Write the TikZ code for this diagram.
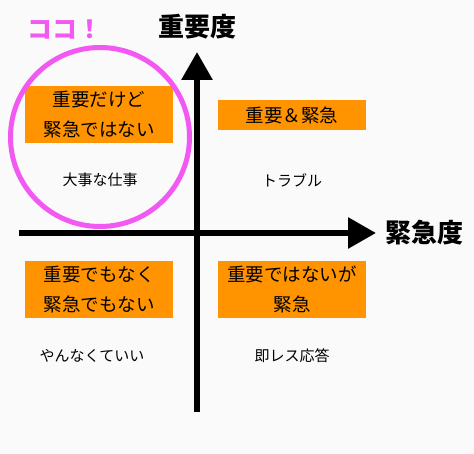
\documentclass[tikz,border=0pt]{standalone}
\usepackage{fontspec}
\setmainfont{Noto Sans CJK JP}
\usepackage{xcolor}
\usepackage{tikz}
\usetikzlibrary{arrows.meta,positioning}

\definecolor{quadorange}{RGB}{255,148,0}
\definecolor{markpink}{RGB}{242,88,242}
\definecolor{paper}{RGB}{250,250,250}

\begin{document}
\begin{tikzpicture}[
  x=1pt, y=-1pt,
  axis/.style={line width=6pt, -{Triangle[width=30pt,length=28pt]}},
  quad/.style={fill=quadorange, align=center, minimum width=148pt,
               font=\fontsize{18.5}{30}\selectfont, inner sep=0pt},
  note/.style={font=\fontsize{15}{16}\selectfont, inner sep=0pt},
  axlbl/.style={font=\fontsize{26}{28}\selectfont\bfseries, inner sep=0pt},
]
\fill[paper] (0,0) rectangle (474,454);
\useasboundingbox (0,0) rectangle (474,454);

% axes
\coordinate (ybot) at (197,412);
\coordinate (ytop) at (197,52);
\coordinate (xleft) at (19,233);
\coordinate (xright) at (376,233);
\draw[axis] (ybot) -- (ytop);
\draw[axis] (xleft) -- (xright);
\node[axlbl] (imp) at (197,27) {重要度};
\node[axlbl, right=9pt of xright] (urg) {緊急度};

% quadrants
\node[quad, minimum height=57pt] (q2) at (99,115) {重要だけど\\緊急ではない};
\node[quad, minimum height=30pt] (q1) at (292,115) {重要＆緊急};
\node[quad, minimum height=57pt] (q3) at (99,289.5) {重要でもなく\\緊急でもない};
\node[quad, minimum height=57pt] (q4) at (292,289.5) {重要ではないが\\緊急};

\node[note] (n2) at (100,180) {大事な仕事};
\node[note] (n1) at (292,180) {トラブル};
\node[note] (n3) at (92,356) {やんなくていい};
\node[note] (n4) at (292,356) {即レス応答};

% highlight
\node[draw=markpink, line width=5pt, circle, minimum size=179pt] (here) at (100,137) {};
\node[font=\fontsize{25}{27}\selectfont\bfseries, text=markpink, inner sep=0pt] (koko) at (65,30) {ココ！};
\end{tikzpicture}
\end{document}
